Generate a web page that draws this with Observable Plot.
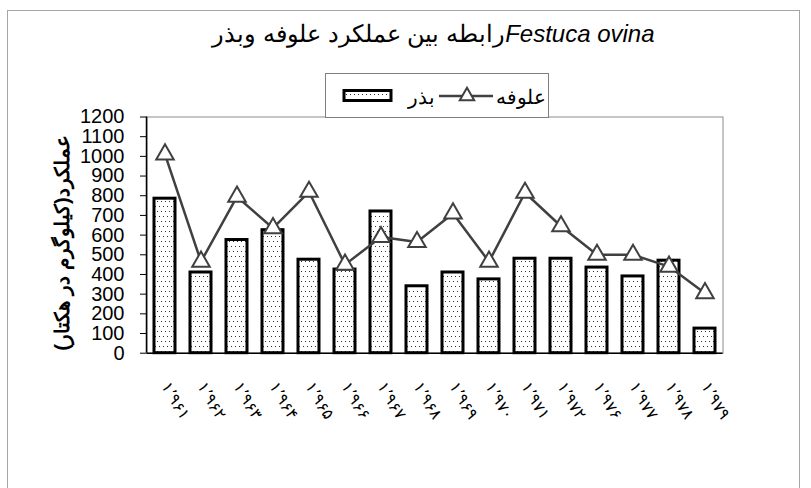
<!DOCTYPE html>
<html><head><meta charset="utf-8">
<script src="https://cdn.jsdelivr.net/npm/d3@7"></script>
<script src="https://cdn.jsdelivr.net/npm/@observablehq/plot@0.6"></script>
<style>
body{margin:0;background:#fff;font-family:"Liberation Sans",Arial,sans-serif;}
#wrap{position:relative;width:811px;height:488px;overflow:hidden;background:#fff;}
#border{position:absolute;left:7px;top:10px;width:791px;height:500px;border:1px solid #a6a6a6;}
#chart{position:absolute;left:0;top:0;}
#title{position:absolute;left:0;width:811px;top:20px;text-align:center;font-size:24px;direction:ltr;white-space:nowrap;color:#000;padding-left:56px;box-sizing:border-box;}
#legend{position:absolute;left:325px;top:73px;}
</style></head>
<body>
<svg width="0" height="0" style="position:absolute">
  <defs>
    <pattern id="dots" patternUnits="userSpaceOnUse" width="4" height="10">
      <rect width="4" height="10" fill="#fff"/>
      <rect x="1" y="1" width="1" height="1" fill="#333"/>
      <rect x="3" y="6" width="1" height="1" fill="#333"/>
    </pattern>
  </defs>
</svg>
<div id="wrap"><div id="border"></div><div id="chart"></div><div id="title"></div><div id="legend"></div></div>
<script>
const years = ["۱٬۹۶۱","۱٬۹۶۲","۱٬۹۶۳","۱٬۹۶۴","۱٬۹۶۵","۱٬۹۶۶","۱٬۹۶۷","۱٬۹۶۸","۱٬۹۶۹","۱٬۹۷۰","۱٬۹۷۱","۱٬۹۷۲","۱٬۹۷۶","۱٬۹۷۷","۱٬۹۷۸","۱٬۹۷۹"];
const seedYield = [785, 410, 575, 625, 475, 425, 720, 340, 410, 375, 480, 480, 435, 390, 470, 125];
const forageYield = [1010, 465, 795, 635, 820, 450, 590, 565, 710, 465, 815, 645, 500, 500, 440, 305];
const yTicks = [0,100,200,300,400,500,600,700,800,900,1000,1100,1200];
const seedName = "بذر";
const forageName = "علوفه";
const titleFa = "رابطه بین عملکرد علوفه وبذر";
const titleLatin = "Festuca ovina";
const yLabel = "عملکرد(کیلوگرم در هکتار)";

const data = years.map((year, i) => ({year, seed: seedYield[i], forage: forageYield[i]}));

function leftAxisLine(index, scales, values, dims) {
  const l = document.createElementNS("http://www.w3.org/2000/svg", "line");
  l.setAttribute("x1", dims.marginLeft); l.setAttribute("x2", dims.marginLeft);
  l.setAttribute("y1", dims.marginTop); l.setAttribute("y2", dims.height - dims.marginBottom);
  l.setAttribute("stroke", "#000"); l.setAttribute("stroke-width", 1.5);
  return l;
}

const plot = Plot.plot({
  width: 811, height: 488,
  marginLeft: 146.5, marginRight: 88.5, marginTop: 116.5, marginBottom: 135.3,
  x: {domain: years, paddingInner: 0.41, paddingOuter: 0.205, axis: null},
  y: {domain: [0, 1200], axis: null},
  style: {fontFamily: "Liberation Sans, Arial, sans-serif", color: "#000", background: "transparent", overflow: "visible"},
  marks: [
    Plot.frame({stroke: "#8c8c8c"}),
    Plot.barY(data, {x: "year", y: "seed", fill: "url(#dots)", stroke: "#000", strokeWidth: 3}),
    Plot.line(data, {x: "year", y: "forage", stroke: "#404040", strokeWidth: 2.5}),
    Plot.dot(data, {x: "year", y: "forage", symbol: "triangle", r: 6.5, fill: "#fff", stroke: "#404040", strokeWidth: 2}),
    Plot.ruleY([0], {stroke: "#000", strokeWidth: 1.5}),
    leftAxisLine,
    Plot.axisY({ticks: yTicks, tickSize: 6.5, tickPadding: 16, fontSize: 20, tickFormat: d => String(d), label: null}),
    Plot.axisX({tickSize: 0, tickRotate: 60, fontSize: 16, tickPadding: 30, label: null}),
    Plot.text(["\u202B" + yLabel + "\u202C"], {frameAnchor: "left", textAnchor: "middle", lineAnchor: "middle", rotate: -90, dx: -84.5, dy: 8, fontSize: 20, fontWeight: "bold"})
  ]
});
document.getElementById("chart").appendChild(plot);

plot.querySelectorAll("text").forEach(t => {
  if (years.includes(t.textContent)) t.setAttribute("letter-spacing", "3");
});

// Title
const title = d3.select("#title");
title.append("span").text(titleFa);
title.append("i").text(titleLatin);

// Legend
const lg = d3.select("#legend").append("svg").attr("width", 225).attr("height", 46)
  .style("font-family", "Liberation Sans, Arial, sans-serif");
lg.append("rect").attr("x", 0.5).attr("y", 0.5).attr("width", 223).attr("height", 44)
  .attr("fill", "#fff").attr("stroke", "#7f7f7f");
lg.append("rect").attr("x", 19).attr("y", 17.5).attr("width", 47).attr("height", 10)
  .attr("fill", "url(#dots)").attr("stroke", "#000").attr("stroke-width", 3);
lg.append("text").attr("x", 110).attr("y", 31).attr("text-anchor", "end").attr("font-size", 20).text(seedName);
lg.append("line").attr("x1", 114).attr("x2", 168).attr("y1", 23).attr("y2", 23).attr("stroke", "#404040").attr("stroke-width", 2.5);
lg.append("path").attr("d", d3.symbol(d3.symbolTriangle, 90)()).attr("transform", "translate(142,23)")
  .attr("fill", "#fff").attr("stroke", "#404040").attr("stroke-width", 2);
lg.append("text").attr("x", 171).attr("y", 31).attr("text-anchor", "start").attr("font-size", 20).text(forageName);
</script>
</body></html>
